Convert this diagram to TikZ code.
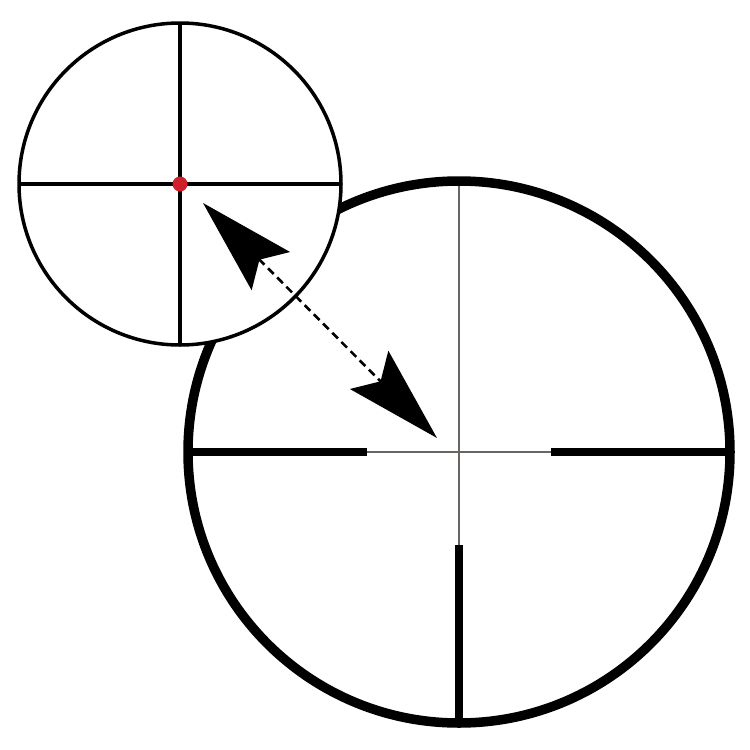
\documentclass[tikz,border=0pt]{standalone}
\usetikzlibrary{arrows.meta}
\definecolor{dotred}{HTML}{D01F2A}
\definecolor{thingray}{HTML}{6A6462}
\tikzset{
  bigring/.style={draw=black, line width=9.5pt},
  thinhair/.style={draw=thingray, line width=2pt},
  post/.style={draw=black, line width=8pt},
  smallring/.style={draw=black, fill=white, line width=3.5pt},
  smallhair/.style={draw=black, line width=3.5pt},
  dblarrow/.style={draw=black, line width=2.6pt, dash pattern=on 8pt off 5pt,
    {Stealth[length=96pt,width=54pt,inset=16pt]}-{Stealth[length=96pt,width=54pt,inset=16pt]}}
}
\begin{document}
\begin{tikzpicture}[x=1pt,y=-1pt]
\useasboundingbox[fill=white] (0,0) rectangle (750,750);
% big reticle
\coordinate (B) at (459,452);
\draw[thinhair] (459,181) -- (459,723);
\draw[thinhair] (188,452) -- (730,452);
\draw[post] (188,452) -- (367,452);
\draw[post] (551,452) -- (730,452);
\draw[post] (459,545) -- (459,723);
\draw[bigring] (B) circle[radius=271];
% small reticle
\coordinate (S) at (180,184);
\draw[smallring] (S) circle[radius=161];
\draw[smallhair] (19,184) -- (341,184);
\draw[smallhair] (180,23) -- (180,345);
\fill[dotred] (S) circle[radius=7.5];
% arrow
\coordinate (a) at (203,203);
\coordinate (b) at (437,438);
\draw[dblarrow] (a) -- (b);
\end{tikzpicture}
\end{document}
